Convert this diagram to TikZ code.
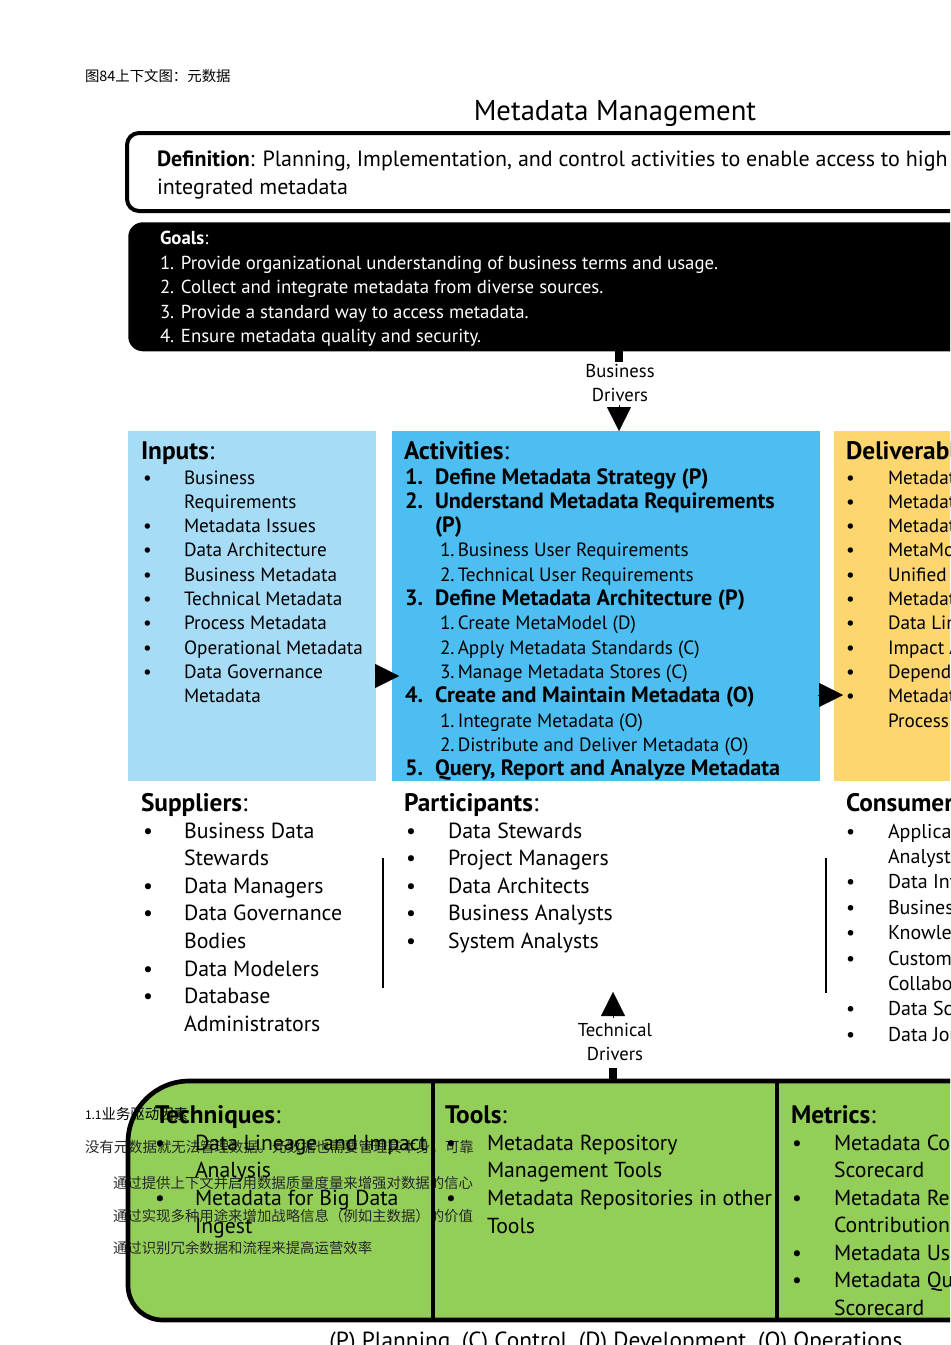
\documentclass[tikz,border=0pt]{standalone}
\usepackage{fontspec}
\setmainfont{PT Sans}
\newfontfamily\cjk{Noto Sans CJK SC}
\usetikzlibrary{arrows.meta}
\definecolor{inblue}{RGB}{166,220,246}
\definecolor{actblue}{RGB}{77,190,242}
\definecolor{delyel}{RGB}{253,214,112}
\definecolor{tgreen}{RGB}{146,206,88}
\definecolor{cjkgray}{RGB}{40,40,40}
\newcommand\fsdef{\fontsize{16.5}{18}\selectfont}
\newcommand\fsgoal{\fontsize{14.1}{16}\selectfont}
\newcommand\fsbox{\fontsize{14.4}{16}\selectfont}
\newcommand\fsbold{\fontsize{16.6}{18}\selectfont\bfseries}
\newcommand\fshead{\fontsize{19}{21}\selectfont}
\newcommand\fsmid{\fontsize{16.4}{18}\selectfont}
\newcommand\fsbot{\fontsize{16.3}{18}\selectfont}
\newcommand\fscjk{\fontsize{10.8}{12}\selectfont}
\begin{document}
\begin{tikzpicture}[x=0.75pt,y=-0.75pt,
  txt/.style={anchor=base west,inner sep=0pt,outer sep=0pt},
  boxt/.style={txt,font=\fsbox},
  midt/.style={txt,font=\fsmid},
  bott/.style={txt,font=\fsbot},
  cjkt/.style={txt,font=\cjk\fscjk,text=cjkgray},
  bigtri/.style={-{Triangle[width=18pt,length=18pt]},line width=0.1pt},
  sep/.style={line width=1.5pt}]
\useasboundingbox (0,0) rectangle (950,1345);
\clip (0,0) rectangle (950,1345);

% caption and title
\node[cjkt,text=black] (cap) at (85,81) {\cjk 图84上下文图：元数据};
\node[inner sep=0pt,font=\fontsize{21.5}{24}\selectfont] (title) at (615,114) {Metadata Management};

% definition box
\draw[line width=3pt,rounded corners=9pt,fill=white] (127,133) rectangle (1000,211);
\node[txt,font=\fsdef] (def1) at (157,166) {\textbf{Definition}: Planning, Implementation, and control activities to enable access to high quality,};
\node[txt,font=\fsdef] (def2) at (157,194) {integrated metadata};

% goals box
\node[fill=black,rounded corners=11pt,minimum width=872*0.75pt,minimum height=129*0.75pt,anchor=north west,inner sep=0pt] (goals) at (128,222) {};
\node[txt,font=\fsgoal,text=white] (g0) at (160,244) {\textbf{Goals}:};
\node[txt,font=\fsgoal,text=white] (g1) at (160,269) {1. Provide organizational understanding of business terms and usage.};
\node[txt,font=\fsgoal,text=white] (g2) at (160,293) {2. Collect and integrate metadata from diverse sources.};
\node[txt,font=\fsgoal,text=white] (g3) at (160,318) {3. Provide a standard way to access metadata.};
\node[txt,font=\fsgoal,text=white] (g4) at (160,342) {4. Ensure metadata quality and security.};

% business drivers
\node[align=center,inner sep=0pt,font=\fontsize{14}{16}\selectfont] (bd) at (620,383) {Business\\[2pt]Drivers};
\coordinate (bdtop) at (619,351);
\coordinate (bdstub) at (619,362);
\draw[line width=6pt] (bdtop) -- (bdstub);

% three coloured boxes
\node[fill=inblue,minimum width=248*0.75pt,minimum height=350*0.75pt,anchor=north west,inner sep=0pt] (inputs) at (128,431) {};
\node[fill=actblue,minimum width=428*0.75pt,minimum height=350*0.75pt,anchor=north west,inner sep=0pt] (acts) at (392,431) {};
\node[fill=delyel,minimum width=200*0.75pt,minimum height=350*0.75pt,anchor=north west,inner sep=0pt] (dels) at (834,431) {};

\coordinate (bdarr) at (619,405);
\draw[bigtri] (bdarr) -- (acts.north -| bdarr);

% arrows between boxes
\coordinate (ia) at (375,676);
\coordinate (ib) at (399,676);
\draw[bigtri] (ia) -- (ib);
\coordinate (ad) at (818,695);
\coordinate (ae) at (843,695);
\draw[bigtri] (ad) -- (ae);

% Inputs
\node[txt,font=\fshead] (inh) at (141,459) {\textbf{Inputs}:};
\foreach \b/\t [count=\i] in {1/Business,0/Requirements,1/Metadata Issues,1/Data Architecture,1/Business Metadata,1/Technical Metadata,1/Process Metadata,1/Operational Metadata,1/Data Governance,0/Metadata}{
  \pgfmathsetmacro\yy{484+24.3*(\i-1)}
  \node[boxt] (in\i) at (184,\yy) {\t};
  \ifnum\b=1 \node[boxt] (inb\i) at (143,\yy) {•}; \fi
}

% Activities
\node[txt,font=\fshead] (acth) at (404,459) {\textbf{Activities}:};
\foreach \k/\n/\t [count=\i] in {b/1./Define Metadata Strategy (P),b/2./Understand Metadata Requirements,c//(P),s//1.\,Business User Requirements,s//2.\,Technical User Requirements,b/3./Define Metadata Architecture (P),s//1.\,Create MetaModel (D),s//2.\,Apply Metadata Standards (C),s//3.\,Manage Metadata Stores (C),b/4./Create and Maintain Metadata (O),s//1.\,Integrate Metadata (O),s//2.\,Distribute and Deliver Metadata (O),b/5./{Query, Report and Analyze Metadata}}{
  \pgfmathsetmacro\yy{484+24.3*(\i-1)}
  \if\k b
    \node[boxt,font=\fsbold] (actn\i) at (405,\yy) {\n};
    \node[boxt,font=\fsbold] (act\i) at (435,\yy) {\t};
  \fi
  \if\k c
    \node[boxt,font=\fsbold] (act\i) at (435,\yy) {\t};
  \fi
  \if\k s
    \node[boxt] (act\i) at (440,\yy) {\t};
  \fi
}

% Deliverables
\node[txt,font=\fshead] (delh) at (846,459) {\textbf{Deliverables}:};
\foreach \b/\t [count=\i] in {1/Metadata Strategy,1/Metadata Standards,1/Metadata Architecture,1/MetaModel,1/Unified Metadata,1/Metadata Stores,1/Data Lineage,1/Impact Analysis,1/Dependency Analysis,1/Metadata Control,0/Process}{
  \pgfmathsetmacro\yy{484+24.3*(\i-1)}
  \node[boxt] (del\i) at (888,\yy) {\t};
  \ifnum\b=1 \node[boxt] (delb\i) at (846,\yy) {•}; \fi
}

% Suppliers
\node[txt,font=\fshead] (suph) at (141,811) {\textbf{Suppliers}:};
\foreach \b/\t [count=\i] in {1/Business Data,0/Stewards,1/Data Managers,1/Data Governance,0/Bodies,1/Data Modelers,1/Database,0/Administrators}{
  \pgfmathsetmacro\yy{838+27.6*(\i-1)}
  \node[midt] (sup\i) at (184,\yy) {\t};
  \ifnum\b=1 \node[midt] (supb\i) at (143,\yy) {•}; \fi
}
\coordinate (s1a) at (383,858);
\coordinate (s1b) at (383,988);
\draw[sep] (s1a) -- (s1b);

% Participants
\node[txt,font=\fshead] (parh) at (404,811) {\textbf{Participants}:};
\foreach \t [count=\i] in {Data Stewards,Project Managers,Data Architects,Business Analysts,System Analysts}{
  \pgfmathsetmacro\yy{838+27.6*(\i-1)}
  \node[midt] (par\i) at (448,\yy) {\t};
  \node[midt] (parb\i) at (406,\yy) {•};
}
\coordinate (s2a) at (826,858);
\coordinate (s2b) at (826,993);
\draw[sep] (s2a) -- (s2b);

% Consumers
\node[txt,font=\fshead] (conh) at (846,811) {\textbf{Consumers}:};
\foreach \b/\t [count=\i] in {1/Application Developers,0/Analysts,1/Data Integrators,1/Business Users,1/Knowledge Workers,1/Customers and,0/Collaborators,1/Data Scientists,1/Data Journalists}{
  \pgfmathsetmacro\yy{838+25.4*(\i-1)}
  \node[txt,font=\fontsize{15}{17}\selectfont] (con\i) at (888,\yy) {\t};
  \ifnum\b=1 \node[txt,font=\fontsize{15}{17}\selectfont] (conb\i) at (846,\yy) {•}; \fi
}

% technical drivers
\node[align=center,inner sep=0pt,font=\fontsize{14}{16}\selectfont] (td) at (615,1042) {Technical\\[2pt]Drivers};
\coordinate (tdarr) at (613,1018);
\coordinate (tdtip) at (613,992);
\draw[bigtri] (tdarr) -- (tdtip);
\coordinate (tdstub1) at (613,1068);
\coordinate (tdstub2) at (613,1081);
\draw[line width=6pt] (tdstub1) -- (tdstub2);

% bottom green box (fill)
\coordinate (gA) at (1010,1081);
\coordinate (gB) at (128,1081);
\coordinate (gC) at (128,1320);
\coordinate (gD) at (1010,1320);
\fill[tgreen] (gA) [rounded corners=46pt] -- (gB) [rounded corners=26pt] -- (gC) [sharp corners] -- (gD) -- cycle;

% chinese text (over the fill, under border and English text)
\node[cjkt,text=black] (cn0) at (85,1119) {\fontsize{9}{10}\selectfont 1.1\cjk\fscjk 业务驱动因素};
\node[cjkt] (cn1) at (85,1152) {没有元数据就无法管理数据。元数据也需要管理其本身。可靠};
\node[cjkt] (cn2) at (113,1188) {通过提供上下文并启用数据质量度量来增强对数据的信心};
\node[cjkt] (cn3) at (113,1221) {通过实现多种用途来增加战略信息（例如主数据）的价值};
\node[cjkt] (cn4) at (113,1253) {通过识别冗余数据和流程来提高运营效率};

% green box border and dividers
\draw[line width=3.5pt] (gA) [rounded corners=46pt] -- (gB) [rounded corners=26pt] -- (gC) [sharp corners] -- (gD);
\coordinate (dv1a) at (433,1081);
\coordinate (dv1b) at (433,1320);
\coordinate (dv2a) at (777,1081);
\coordinate (dv2b) at (777,1320);
\draw[line width=3pt] (dv1a) -- (dv1b);
\draw[line width=3pt] (dv2a) -- (dv2b);

% Techniques
\node[txt,font=\fshead] (teh) at (155,1123) {\textbf{Techniques}:};
\foreach \b/\t [count=\i] in {1/Data Lineage and Impact,0/Analysis,1/Metadata for Big Data,0/Ingest}{
  \pgfmathsetmacro\yy{1150+27.7*(\i-1)}
  \node[bott] (te\i) at (195,\yy) {\t};
  \ifnum\b=1 \node[bott] (teb\i) at (155,\yy) {•}; \fi
}
% Tools
\node[txt,font=\fshead] (toh) at (445,1123) {\textbf{Tools}:};
\foreach \b/\t [count=\i] in {1/Metadata Repository,0/Management Tools,1/Metadata Repositories in other,0/Tools}{
  \pgfmathsetmacro\yy{1150+27.7*(\i-1)}
  \node[bott] (to\i) at (487,\yy) {\t};
  \ifnum\b=1 \node[bott] (tob\i) at (446,\yy) {•}; \fi
}
% Metrics
\node[txt,font=\fshead] (meh) at (791,1123) {\textbf{Metrics}:};
\foreach \b/\t [count=\i] in {1/Metadata Completeness,0/Scorecard,1/Metadata Repository,0/Contribution,1/Metadata Usage Reporting,1/Metadata Quality,0/Scorecard}{
  \pgfmathsetmacro\yy{1150+27.5*(\i-1)}
  \node[bott] (me\i) at (834,\yy) {\t};
  \ifnum\b=1 \node[bott] (meb\i) at (792,\yy) {•}; \fi
}

% legend
\node[inner sep=0pt,font=\fontsize{17.5}{19}\selectfont] (legend) at (616,1343) {(P) Planning, (C) Control, (D) Development, (O) Operations};
\end{tikzpicture}
\end{document}
